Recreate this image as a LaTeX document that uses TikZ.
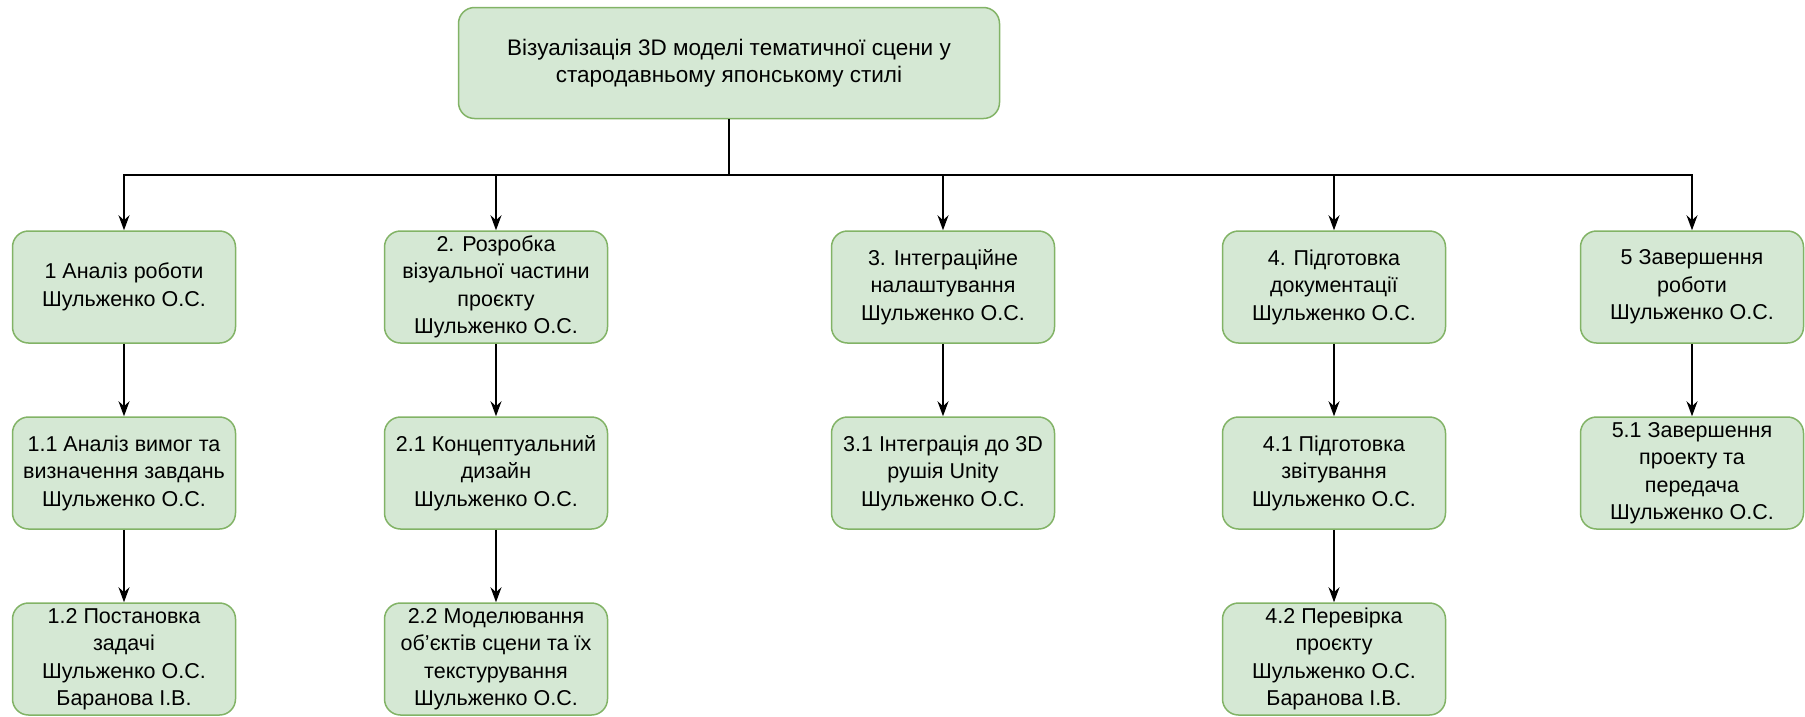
\documentclass[tikz,border=0pt]{standalone}
\usepackage{fontspec}
\setmainfont{Liberation Sans}
\usetikzlibrary{positioning,arrows.meta}
\definecolor{taskfill}{HTML}{D5E8D4}
\definecolor{taskline}{HTML}{82B366}

\begin{document}
\begin{tikzpicture}[x=1pt,y=-1pt,node distance=186pt,on grid,
        task/.style={draw=taskline,fill=taskfill,line width=1.5pt,rounded corners=16pt,
            minimum width=223pt,minimum height=112pt,align=center,inner xsep=2pt,
            font=\fontsize{21.5}{27.5}\selectfont},
        conn/.style={line width=1.5pt,-{Stealth[length=15pt,width=11pt]}}]
        \useasboundingbox (0,0) rectangle (1805,716);
        % root of the breakdown
        \node[task,minimum width=541pt,minimum height=111pt,font=\fontsize{22.5}{27.5}\selectfont] (root) at (729,63)
            {Візуалізація 3D моделі тематичної сцени у\\стародавньому японському стилі};
        % first level
        \node[task] (w1) at (124,287) {1 Аналіз роботи\\Шульженко О.С.};
        \node[task] (w2) at (496,287) {2. Розробка\\візуальної частини\\проєкту\\Шульженко О.С.};
        \node[task] (w3) at (943,287) {3. Інтеграційне\\налаштування\\Шульженко О.С.};
        \node[task] (w4) at (1334,287) {4. Підготовка\\документації\\Шульженко О.С.};
        \node[task] (w5) at (1692,287) {5 Завершення\\роботи\\Шульженко О.С.};
        % second level
        \node[task,below of=w1] (w11) {1.1 Аналіз вимог та\\визначення завдань\\Шульженко О.С.};
        \node[task,below of=w2] (w21) {2.1 Концептуальний\\дизайн\\Шульженко О.С.};
        \node[task,below of=w3] (w31) {3.1 Інтеграція до 3D\\рушія Unity\\Шульженко О.С.};
        \node[task,below of=w4] (w41) {4.1 Підготовка\\звітування\\Шульженко О.С.};
        \node[task,below of=w5] (w51) {5.1 Завершення\\проекту та\\передача\\Шульженко О.С.};
        % third level
        \node[task,below of=w11] (w12) {1.2 Постановка\\задачі\\Шульженко О.С.\\Баранова І.В.};
        \node[task,below of=w21] (w22) {2.2 Моделювання\\об’єктів сцени та їх\\текстурування\\Шульженко О.С.};
        \node[task,below of=w41] (w42) {4.2 Перевірка\\проєкту\\Шульженко О.С.\\Баранова І.В.};
        % bus under the root
        \coordinate (bus) at (729,175);
        \draw[line width=1.5pt] (root) -- (bus);
        \foreach \n in {w1,w2,w3,w4,w5}
            \draw[conn] (bus) -| (\n);
        \path[conn]
            (w1) edge (w11)
            (w11) edge (w12)
            (w2) edge (w21)
            (w21) edge (w22)
            (w3) edge (w31)
            (w4) edge (w41)
            (w41) edge (w42)
            (w5) edge (w51);
\end{tikzpicture}
\end{document}
